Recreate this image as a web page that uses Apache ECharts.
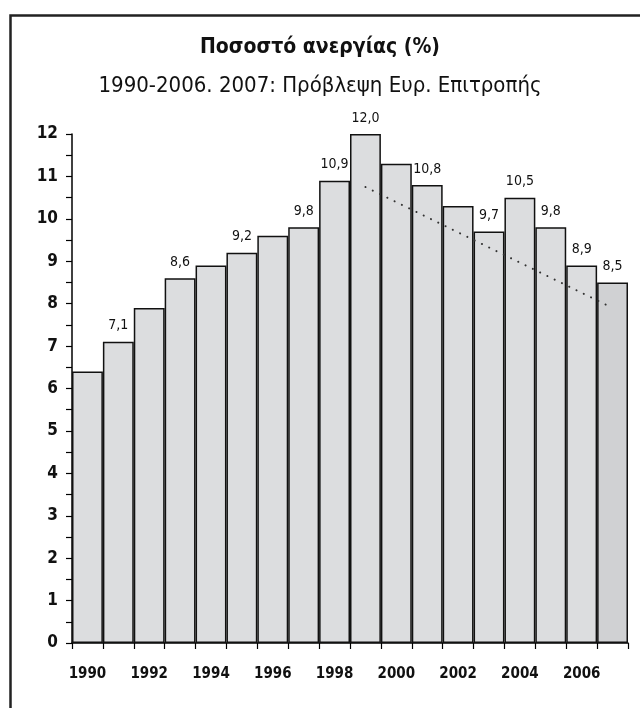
<!DOCTYPE html>
<html>
<head>
<meta charset="utf-8">
<script src="https://cdn.jsdelivr.net/npm/echarts@6/dist/echarts.min.js"></script>
<style>
  html, body { margin: 0; padding: 0; background: #fff; }
  #chart { width: 640px; height: 708px; }
</style>
</head>
<body>
<div id="chart"></div>
<script>
var years = ['1990', '1991', '1992', '1993', '1994', '1995', '1996', '1997', '1998',
             '1999', '2000', '2001', '2002', '2003', '2004', '2005', '2006', '2007'];
var rates = [6.4, 7.1, 7.9, 8.6, 8.9, 9.2, 9.6, 9.8, 10.9,
             12.0, 11.3, 10.8, 10.3, 9.7, 10.5, 9.8, 8.9, 8.5];
// years whose value is printed above the bar
var labelledYears = ['1991', '1993', '1995', '1997', '1998', '1999', '2001',
                     '2003', '2004', '2005', '2006', '2007'];
// trend (dotted) line: start and end points
var trendYears = ['1999', '2007'];
var trendValues = [10.75, 7.9];
var forecastYear = '2007';

var font = "'Liberation Sans Narrow', 'DejaVu Sans Condensed', sans-serif";

var chart = echarts.init(document.getElementById('chart'));

var barData = rates.map(function (v, i) {
    var item = {
        value: v,
        label: { show: labelledYears.indexOf(years[i]) >= 0 }
    };
    if (years[i] === forecastYear) {
        item.itemStyle = { color: '#d0d1d3' };
    }
    return item;
});

var trendData = years.map(function (y) {
    var k = trendYears.indexOf(y);
    return k >= 0 ? trendValues[k] : null;
});

var option = {
    animation: false,
    title: [
        {
            text: 'Ποσοστό ανεργίας (%)',
            left: 'center',
            top: 32,
            textStyle: { fontFamily: font, fontSize: 21, fontWeight: 'bold', color: '#111' }
        },
        {
            text: '1990-2006. 2007: Πρόβλεψη Ευρ. Επιτροπής',
            left: 'center',
            top: 70,
            textStyle: { fontFamily: font, fontSize: 22, fontWeight: 'normal', color: '#111' }
        }
    ],
    graphic: [
        {
            type: 'rect',
            left: 8,
            top: 13,
            shape: { width: 660, height: 720 },
            style: { fill: 'none', stroke: '#222', lineWidth: 2.5 }
        }
    ],
    grid: {
        left: 72,
        right: 12,
        top: 134,
        bottom: 65
    },
    xAxis: {
        type: 'category',
        data: years,
        boundaryGap: true,
        axisLine: { lineStyle: { color: '#000', width: 1.5 } },
        axisTick: { show: true, interval: 0, length: 6, lineStyle: { color: '#000', width: 1.2 } },
        axisLabel: {
            interval: 1,
            margin: 24,
            fontFamily: font,
            fontSize: 15,
            fontWeight: 'bold',
            color: '#111'
        }
    },
    yAxis: {
        type: 'value',
        min: 0,
        max: 12,
        interval: 1,
        splitLine: { show: false },
        axisLine: { show: true, lineStyle: { color: '#000', width: 1.5 } },
        axisTick: { show: true, length: 6, lineStyle: { color: '#000', width: 1.2 } },
        minorTick: { show: true, splitNumber: 2, length: 6, lineStyle: { color: '#000', width: 1.2 } },
        axisLabel: {
            margin: 14,
            fontFamily: font,
            fontSize: 17,
            fontWeight: 'bold',
            color: '#111'
        }
    },
    series: [
        {
            type: 'bar',
            data: barData,
            barCategoryGap: 0,
            itemStyle: {
                color: '#dcdddf',
                borderColor: '#111',
                borderWidth: 1.5
            },
            label: {
                position: 'top',
                distance: 9,
                fontFamily: font,
                fontSize: 14,
                color: '#111',
                formatter: function (p) {
                    return p.value.toFixed(1).replace('.', ',');
                }
            }
        },
        {
            type: 'line',
            data: trendData,
            connectNulls: true,
            symbol: 'none',
            z: 5,
            lineStyle: {
                color: '#333',
                width: 2,
                type: [0.1, 8],
                cap: 'round'
            }
        }
    ]
};

chart.setOption(option);
</script>
</body>
</html>
